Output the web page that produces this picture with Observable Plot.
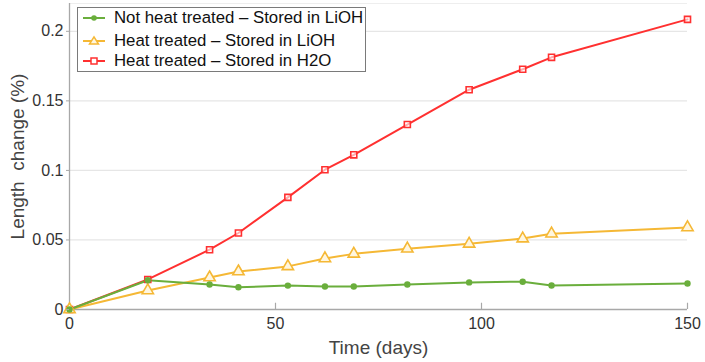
<!DOCTYPE html>
<html><head><meta charset="utf-8">
<script src="https://cdn.jsdelivr.net/npm/d3@7"></script>
<script src="https://cdn.jsdelivr.net/npm/@observablehq/plot@0.6"></script>
<style>
body{margin:0;background:#fff;}
#wrap{position:relative;width:705px;height:362px;}
#legend{position:absolute;left:77px;top:7px;width:289px;height:65px;border:1.5px solid #7a7a7a;background:#fff;box-sizing:border-box;font-family:"Liberation Sans",Arial,sans-serif;font-size:16.8px;color:#111;}
.row{position:absolute;left:4px;height:18px;line-height:18px;display:flex;align-items:center;white-space:nowrap;}
.row svg{margin-right:8px;}
</style></head>
<body><div id="wrap"><div id="legend"></div></div>
<script>
const days = [0, 19, 34, 41, 53, 62, 69, 82, 97, 110, 117, 150];
const notHeatLiOH = [0, 0.021, 0.018, 0.016, 0.0172, 0.0165, 0.0165, 0.018, 0.0195, 0.020, 0.0173, 0.0187];
const heatLiOH = [0, 0.0137, 0.023, 0.0273, 0.031, 0.0367, 0.040, 0.0437, 0.0472, 0.051, 0.0545, 0.059];
const heatH2O = [0, 0.0216, 0.043, 0.055, 0.0806, 0.1005, 0.1112, 0.133, 0.158, 0.1727, 0.1813, 0.2086];
const seriesNames = ["Not heat treated – Stored in LiOH", "Heat treated – Stored in LiOH", "Heat treated – Stored in H2O"];
const colors = ["#6aae3c", "#f5b835", "#ff3030"];
const xTicks = [0, 50, 100, 150];
const yTicks = [0, 0.05, 0.1, 0.15, 0.2];
const xLabel = "Time (days)";
const yLabel = "Length  change (%)";

const valuesList = [notHeatLiOH, heatLiOH, heatH2O];
const data = valuesList.flatMap((vals, s) => vals.map((v, i) => ({day: days[i], value: v, series: seriesNames[s]})));
const drawOrder = [2, 1, 0];

const marks = [
  Plot.gridY(yTicks.filter(d => d > 0), {stroke: "#e6e6e6", strokeOpacity: 1, strokeWidth: 1.2}),
  Plot.ruleY([0.22], {stroke: "#eeeeee"}),
  Plot.ruleX([0], {stroke: "#a8a8a8", strokeWidth: 1.3}),
  Plot.ruleY([0], {stroke: "#a8a8a8", strokeWidth: 1.3}),
  Plot.ruleX(xTicks.filter(d => d > 0), {y1: 0, y2: 0.0045, stroke: "#a8a8a8", strokeWidth: 1.2}),
];
for (const s of drawOrder) {
  marks.push(Plot.line(data.filter(d => d.series === seriesNames[s]), {x: "day", y: "value", stroke: colors[s], strokeWidth: 2}));
}
for (const s of drawOrder) {
  const sub = data.filter(d => d.series === seriesNames[s]);
  if (s === 0) marks.push(Plot.dot(sub, {x: "day", y: "value", fill: colors[s], r: 3.2, symbol: "circle"}));
  else if (s === 1) marks.push(Plot.dot(sub, {x: "day", y: "value", stroke: colors[s], fill: "#fff6df", strokeWidth: 1.6, r: 4.2, symbol: "triangle"}));
  else marks.push(Plot.dot(sub, {x: "day", y: "value", stroke: colors[s], fill: "#fff", fillOpacity: 0.6, strokeWidth: 1.6, r: 3.4, symbol: "square"}));
}
marks.push(Plot.axisX(xTicks, {tickSize: 0, tickPadding: 8, fontSize: 16, fill: "#333", label: null}));
marks.push(Plot.axisY(yTicks, {tickSize: 3, tickPadding: 3, fontSize: 16, fill: "#333", stroke: "#a8a8a8", tickFormat: d => String(+d.toFixed(2)), label: null}));
marks.push(Plot.text([xLabel], {frameAnchor: "bottom", dy: 44, fontSize: 19, fill: "#444"}));
marks.push(Plot.text([yLabel], {frameAnchor: "left", textAnchor: "middle", dx: -52, dy: 0, rotate: -90, fontSize: 19, fill: "#444"}));

const chart = Plot.plot({
  width: 705, height: 362,
  marginLeft: 69, marginRight: 18, marginTop: 3, marginBottom: 53,
  x: {domain: [0, 150]},
  y: {domain: [0, 0.22]},
  style: {fontFamily: "'Liberation Sans', Arial, sans-serif", background: "#fff", color: "#333", overflow: "visible"},
  marks
});
document.getElementById("wrap").prepend(chart);
chart.style.position = "absolute"; chart.style.left = "0"; chart.style.top = "0";

const legend = document.getElementById("legend");
const rowTops = [1, 24, 44];
seriesNames.forEach((name, s) => {
  const row = document.createElement("div");
  row.className = "row"; row.style.top = rowTops[s] + "px";
  let sym;
  if (s === 0) sym = `<circle cx="12" cy="9" r="2.8" fill="${colors[s]}"/>`;
  else if (s === 1) sym = `<path d="M12,4.8 L16.5,12 L7.5,12 Z" fill="#fff6df" stroke="${colors[s]}" stroke-width="1.5"/>`;
  else sym = `<rect x="9" y="6" width="6" height="6" fill="#fff" stroke="${colors[s]}" stroke-width="1.5"/>`;
  row.innerHTML = `<svg width="24" height="18"><line x1="1" x2="23" y1="9" y2="9" stroke="${colors[s]}" stroke-width="2"/>${sym}</svg><span>${name}</span>`;
  legend.appendChild(row);
});
</script></body></html>
